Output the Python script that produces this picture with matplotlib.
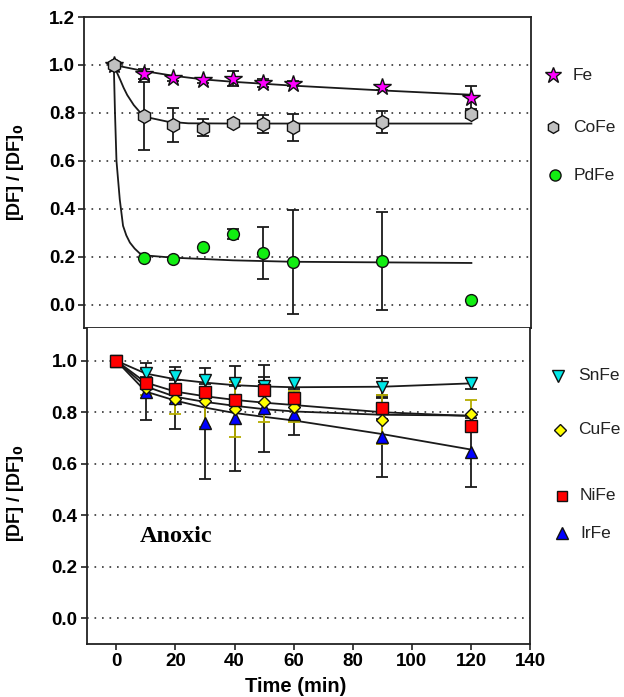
import numpy as np
import matplotlib
matplotlib.use("Agg")
import matplotlib.pyplot as plt

plt.rcParams['font.family'] = ['Liberation Sans', 'DejaVu Sans']

# sampling times (min)
t = [0, 10, 20, 30, 40, 50, 60, 90, 120]

# --- top panel ---
fe = [1.0, 0.962, 0.945, 0.936, 0.943, 0.925, 0.922, 0.907, 0.864]
fe_err = [0, 0.02, 0.01, 0.01, 0.03, 0.015, 0.01, 0.01, 0.047]
cofe = [1.0, 0.789, 0.75, 0.739, 0.76, 0.754, 0.74, 0.762, 0.795]
cofe_err = [0, 0.142, 0.07, 0.035, 0.012, 0.037, 0.055, 0.047, 0.015]
pdfe = [1.0, 0.197, 0.19, 0.243, 0.296, 0.217, 0.179, 0.183, 0.022]
pdfe_err = [0, 0, 0, 0, 0.02, 0.108, 0.215, 0.205, 0]

# fitted curves
fe_fit_t = [0, 10, 20, 30, 40, 50, 60, 90, 120]
fe_fit = [1.0, 0.975, 0.955, 0.94, 0.93, 0.922, 0.914, 0.894, 0.876]
cofe_fit_t = [0, 1, 2.2, 3.3, 4.5, 6.7, 9, 12, 18, 25, 40, 120]
cofe_fit = [1.0, 0.97, 0.937, 0.905, 0.875, 0.833, 0.8, 0.78, 0.764, 0.757, 0.756, 0.756]
pdfe_fit_t = [0, 0.4, 0.9, 2.0, 3.1, 4.2, 5.4, 7, 8.7, 12, 20, 40, 60, 120]
pdfe_fit = [1.0, 0.8, 0.6, 0.44, 0.33, 0.29, 0.26, 0.235, 0.215, 0.205, 0.197, 0.186, 0.18, 0.175]

# --- bottom panel (anoxic) ---
snfe = [1.0, 0.951, 0.941, 0.925, 0.915, 0.902, 0.912, 0.899, 0.912]
snfe_err = [0, 0.015, 0.015, 0.015, 0.015, 0.015, 0.02, 0.033, 0.022]
cufe = [1.0, 0.895, 0.85, 0.844, 0.811, 0.841, 0.821, 0.77, 0.793]
cufe_err = [0, 0.03, 0.058, 0.1, 0.108, 0.08, 0.06, 0.095, 0.055]
nife = [1.0, 0.912, 0.889, 0.88, 0.847, 0.886, 0.854, 0.815, 0.746]
nife_err = [0, 0.015, 0.015, 0.015, 0.015, 0.05, 0.015, 0.04, 0.015]
irfe = [1.0, 0.88, 0.855, 0.757, 0.776, 0.815, 0.793, 0.705, 0.644]
irfe_err = [0, 0.112, 0.12, 0.215, 0.205, 0.17, 0.08, 0.155, 0.133]

fit_t = [0, 10, 20, 30, 40, 50, 60, 90, 120]
snfe_fit = [1.0, 0.95, 0.928, 0.915, 0.905, 0.9, 0.897, 0.899, 0.912]
cufe_fit = [1.0, 0.9, 0.86, 0.84, 0.825, 0.812, 0.803, 0.79, 0.787]
nife_fit = [1.0, 0.915, 0.88, 0.862, 0.848, 0.837, 0.828, 0.8, 0.785]
irfe_fit = [1.0, 0.88, 0.845, 0.818, 0.797, 0.782, 0.768, 0.715, 0.655]

fig = plt.figure(figsize=(6.24, 6.97), dpi=100)
W, H = 624, 697
ax1 = fig.add_axes([84 / W, 1 - 328 / H, 447 / W, 311 / H])
ax2 = fig.add_axes([86.7 / W, 1 - 643.5 / H, 443.5 / W, 315.5 / H])

grid_style = dict(color='#333333', lw=1.2, ls=(0, (1, 3.5)), zorder=0)
yt = [0.0, 0.2, 0.4, 0.6, 0.8, 1.0]
for ax in (ax1, ax2):
    for v in yt:
        ax.axhline(v, **grid_style)
    ax.set_xlim(-10, 140)
    for s in ax.spines.values():
        s.set_linewidth(1.3)
        s.set_color('#222222')
    ax.tick_params(direction='out', length=4, width=1.2, labelsize=13.5, pad=2.5,
                   color='#222222')

ax1.set_ylim(-0.096, 1.2)
ax1.set_yticks([0.0, 0.2, 0.4, 0.6, 0.8, 1.0, 1.2])
ax1.set_xticks([0, 20, 40, 60, 80, 100, 120])
ax1.set_xticklabels([])
ax2.set_ylim(-0.098, 1.127)
ax2.set_yticks(yt)
ax2.set_xticks([0, 20, 40, 60, 80, 100, 120, 140])
ax2.spines['top'].set_visible(False)
for ax in (ax1, ax2):
    for lab in ax.get_yticklabels() + ax.get_xticklabels():
        lab.set_fontweight('bold')

# top panel
ax1.plot(fe_fit_t, fe_fit, color='#1a1a1a', lw=1.3, zorder=2)
ax1.plot(cofe_fit_t, cofe_fit, color='#1a1a1a', lw=1.3, zorder=2)
ax1.plot(pdfe_fit_t, pdfe_fit, color='#1a1a1a', lw=1.3, zorder=2)
eb = dict(fmt='none', ecolor='#1a1a1a', elinewidth=1.3, capsize=4, capthick=1.3, zorder=3)
ax1.errorbar(t, pdfe, yerr=pdfe_err, **eb)
ax1.errorbar(t, fe, yerr=fe_err, **eb)
ax1.errorbar(t, cofe, yerr=cofe_err, **eb)
ax1.plot(t, pdfe, 'o', ms=8.5, mfc='#11ee11', mec='#111111', mew=1, zorder=4)
ax1.plot(t, fe, '*', ms=13, mfc='#ff00ff', mec='#111111', mew=1, zorder=5)
ax1.plot(t, cofe, 'h', ms=10, mfc='#c0c0c0', mec='#111111', mew=1, zorder=6)

# bottom panel
for y in (snfe_fit, cufe_fit, nife_fit, irfe_fit):
    ax2.plot(fit_t, y, color='#1a1a1a', lw=1.3, zorder=2)
ax2.errorbar(t, irfe, yerr=irfe_err, **eb)
ax2.errorbar(t, snfe, yerr=snfe_err, **eb)
ax2.errorbar(t, nife, yerr=nife_err, **eb)
ax2.errorbar(t, cufe, yerr=cufe_err, fmt='none', ecolor='#b5ad00', elinewidth=1.3,
             capsize=4, capthick=1.3, zorder=3)
ax2.plot(t, irfe, '^', ms=9, mfc='#0000ff', mec='#111111', mew=1, zorder=4)
ax2.plot(t, cufe, 'D', ms=6.5, mfc='#ffff00', mec='#111111', mew=1, zorder=5)
ax2.plot(t, snfe, 'v', ms=9, mfc='#00e8e8', mec='#111111', mew=1, zorder=6)
ax2.plot(t, nife, 's', ms=8, mfc='#ff0000', mec='#111111', mew=1, zorder=7)

ax2.text(8, 0.317, 'Anoxic', fontfamily='Liberation Serif', fontweight='bold',
         fontsize=17.5, va='center', ha='left')

ylab = r'[DF] / [DF]$_\mathbf{0}$'
ax1.set_ylabel(ylab, fontsize=13, fontweight='bold')
ax2.set_ylabel(ylab, fontsize=13, fontweight='bold')
ax1.yaxis.set_label_coords((26 - 84) / 447, 0.5)
ax2.yaxis.set_label_coords((26 - 86.7) / 443.5, 0.475)
ax2.set_xlabel('Time (min)', fontsize=14.5, fontweight='bold')
ax2.xaxis.set_label_coords((296 - 86.7) / 443.5, (643.5 - 677) / 315.5)

# legends placed to the right of the panels
legend_top = [('Fe', '*', 12, '#ff00ff', 553, 75, 573),
              ('CoFe', 'h', 8.5, '#c0c0c0', 553, 127, 573),
              ('PdFe', 'o', 8, '#11ee11', 555, 175, 574)]
legend_bot = [('SnFe', 'v', 8, '#00e8e8', 558, 376, 578),
              ('CuFe', 'D', 6, '#ffff00', 560, 430, 578),
              ('NiFe', 's', 7, '#ff0000', 561.5, 496, 580),
              ('IrFe', '^', 8, '#0000ff', 561.5, 533, 580)]
for name, m, ms, c, mx, my, tx in legend_top + legend_bot:
    fig.lines.append(plt.Line2D([mx / W], [1 - my / H], marker=m, ms=ms, mfc=c,
                                mec='#111111', mew=1, ls='none',
                                transform=fig.transFigure))
    fig.text(tx / W, 1 - my / H, name, fontsize=12.5, va='center', ha='left',
             color='#222222')

fig.savefig('out.png', dpi=100, facecolor='white')
